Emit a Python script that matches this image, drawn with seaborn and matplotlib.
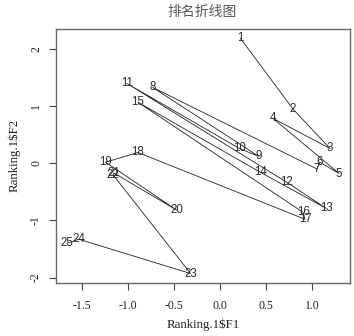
import matplotlib
matplotlib.use("Agg")
import matplotlib.pyplot as plt
import seaborn as sns
import pandas as pd

# ranking coordinates (F1, F2)
labels = [str(i) for i in range(1, 26)]
f1 = [0.22, 0.79, 1.19, 0.57, 1.29, 1.08, 1.05, -0.73, 0.42, 0.21,
      -1.01, 0.72, 1.15, 0.44, -0.89, 0.90, 0.92, -0.89, -1.24, -0.47,
      -1.15, -1.16, -0.32, -1.53, -1.66]
f2 = [2.19, 0.95, 0.26, 0.79, -0.18, 0.02, -0.10, 1.33, 0.12, 0.26,
      1.40, -0.33, -0.79, -0.16, 1.07, -0.86, -0.98, 0.19, 0.02, -0.82,
      -0.17, -0.20, -1.93, -1.33, -1.40]
xticks = [-1.5, -1.0, -0.5, 0.0, 0.5, 1.0]
yticks = [-2, -1, 0, 1, 2]

df = pd.DataFrame({"F1": f1, "F2": f2, "label": labels})

sns.set_style("white")
plt.rcParams["font.family"] = ["Liberation Serif", "DejaVu Serif"]

fig = plt.figure(figsize=(3.54, 3.36), dpi=100)
ax = fig.add_axes([0.158, 0.158, 0.831, 0.756])

sns.lineplot(data=df, x="F1", y="F2", sort=False, estimator=None,
             color="#222222", linewidth=0.6, ax=ax)
for _, r in df.iterrows():
    ax.text(r["F1"], r["F2"], r["label"], ha="center", va="center",
            fontsize=8.3, color="#2a2a3a", family=["Liberation Sans", "DejaVu Sans"])

# R-style 4% padding
xr = max(f1) - min(f1)
yr = max(f2) - min(f2)
ax.set_xlim(min(f1) - 0.04 * xr, max(f1) + 0.04 * xr)
ax.set_ylim(min(f2) - 0.04 * yr, max(f2) + 0.04 * yr)

ax.set_xticks(xticks)
ax.set_xticklabels([f"{v:.1f}" for v in xticks])
ax.set_yticks(yticks)
ax.set_yticklabels([str(v) for v in yticks], rotation=90, va="center")
ax.tick_params(direction="out", length=5, width=0.8, colors="#444444",
               labelcolor="#222222", labelsize=8.5, pad=5, bottom=True, left=True)
ax.tick_params(axis="x", pad=7)

for s in ax.spines.values():
    s.set_color("#666666")
    s.set_linewidth(1.0)

ax.set_xlabel(r"Ranking.1\$F1", fontsize=9.3, color="#222222", labelpad=5)
ax.set_ylabel(r"Ranking.1\$F2", fontsize=9.3, color="#222222", labelpad=7)
fig.text(0.57, 0.963, "排名折线图", ha="center", va="center", fontsize=10,
         color="#555555", family=["Noto Sans CJK SC", "DejaVu Sans"])

fig.savefig("out.png", dpi=100)
